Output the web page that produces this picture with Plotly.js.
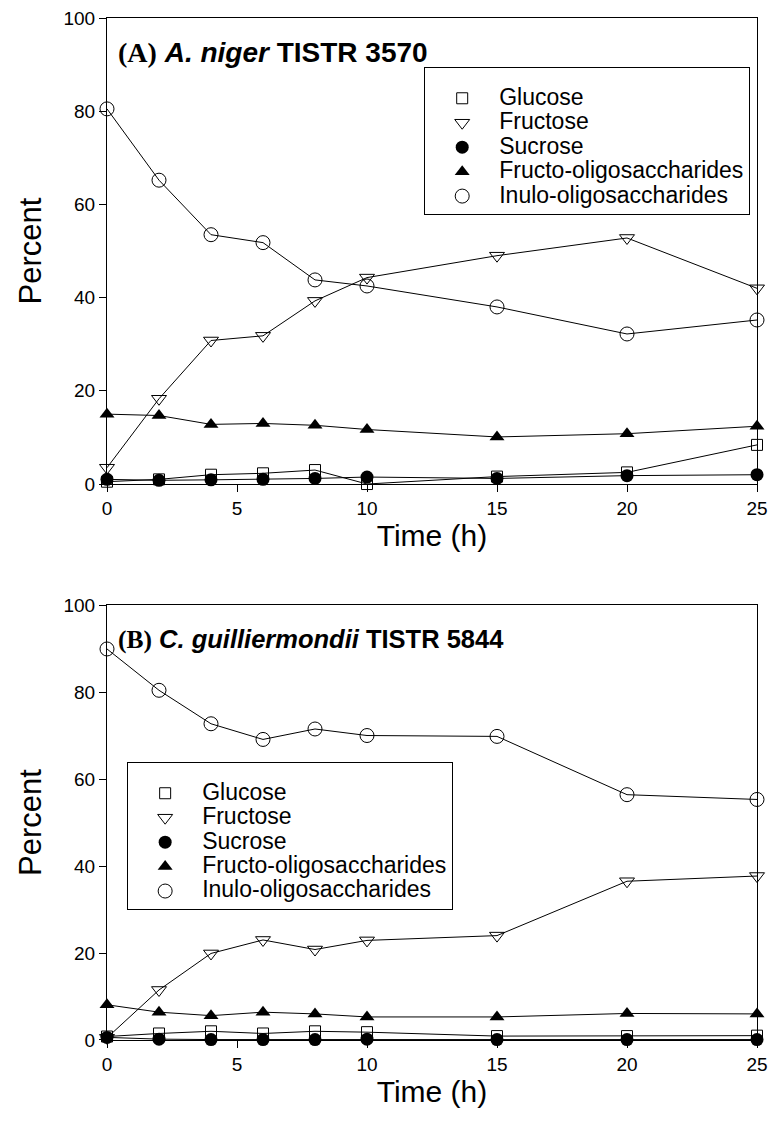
<!DOCTYPE html>
<html>
<head>
<meta charset="utf-8">
<script src="https://cdn.plot.ly/plotly-3.0.1.min.js"></script>
<style>html,body{margin:0;padding:0;background:#fff;}</style>
</head>
<body>
<div id="chart" style="width:768px;height:1144px;"></div>
<script>
const time = [0, 2, 4, 6, 8, 10, 15, 20, 25];
const seriesNames = ["Glucose", "Fructose", "Sucrose", "Fructo-oligosaccharides", "Inulo-oligosaccharides"];

// Panel A: A. niger TISTR 3570
const aGlucose   = [0.5, 1.0, 2.0, 2.3, 3.0, 0.0, 1.6, 2.5, 8.4];
const aFructose  = [3.5, 18.3, 30.8, 31.8, 39.3, 44.3, 49.0, 52.8, 42.0];
const aSucrose   = [1.0, 0.8, 0.9, 1.0, 1.2, 1.5, 1.2, 1.8, 2.0];
const aFOS       = [15.0, 14.7, 12.8, 13.0, 12.6, 11.7, 10.1, 10.8, 12.4];
const aIOS       = [80.5, 65.2, 53.5, 51.8, 43.8, 42.5, 38.0, 32.2, 35.2];

// Panel B: C. guilliermondii TISTR 5844
const bGlucose   = [0.8, 1.5, 2.0, 1.5, 2.0, 1.8, 0.9, 0.9, 1.0];
const bFructose  = [0.5, 11.5, 19.9, 23.0, 20.8, 22.9, 24.0, 36.5, 37.7];
const bSucrose   = [0.6, 0.2, 0.1, 0.1, 0.1, 0.2, 0.1, 0.1, 0.1];
const bFOS       = [8.1, 6.4, 5.6, 6.4, 6.0, 5.3, 5.3, 6.1, 6.0];
const bIOS       = [89.9, 80.4, 72.7, 69.1, 71.5, 70.0, 69.8, 56.4, 55.3];

const xTicks = [0, 5, 10, 15, 20, 25];
const yTicks = [0, 20, 40, 60, 80, 100];

const markerStyles = [
  {symbol: "square-open", size: 11, color: "#000", line: {width: 1, color: "#000"}},
  {symbol: "triangle-down-open", size: 13, color: "#000", line: {width: 1, color: "#000"}},
  {symbol: "circle", size: 13, color: "#000", line: {width: 0, color: "#000"}},
  {symbol: "triangle-up", size: 13, color: "#000", line: {width: 0, color: "#000"}},
  {symbol: "circle-open", size: 14, color: "#000", line: {width: 1, color: "#000"}}
];

const panelA = [aGlucose, aFructose, aSucrose, aFOS, aIOS];
const panelB = [bGlucose, bFructose, bSucrose, bFOS, bIOS];

const traces = [];
function addPanel(data, xa, ya, legendId) {
  data.forEach((vals, i) => {
    traces.push({
      x: time, y: vals, xaxis: xa, yaxis: ya, type: "scatter", mode: "lines+markers",
      line: {color: "#000", width: 1}, marker: markerStyles[i], showlegend: false,
      cliponaxis: false, name: seriesNames[i]
    });
  });
  data.forEach((vals, i) => {
    traces.push({
      x: [null], y: [null], xaxis: xa, yaxis: ya, type: "scatter", mode: "markers",
      marker: markerStyles[i],
      name: "<span style=\"font-size:23px\">" + seriesNames[i] + "</span>",
      legend: legendId, showlegend: true
    });
  });
}
addPanel(panelA, "x", "y", "legend");
addPanel(panelB, "x2", "y2", "legend2");

const fam = "Liberation Sans, Arial, sans-serif";
const axisFont = {family: fam, size: 19, color: "#000"};
function xAxis(anchor) {
  return {
    anchor: anchor, domain: [0, 1], range: [0, 25], tickvals: xTicks, ticks: "outside",
    ticklen: 7, tickwidth: 1, tickcolor: "#000", showline: true, linecolor: "#000", linewidth: 1,
    mirror: true, showgrid: false, zeroline: false, tickfont: axisFont, ticklabeloverflow: "allow",
    title: {text: "Time (h)", font: {family: fam, size: 30, color: "#000"}, standoff: 0}
  };
}
function yAxis(anchor, domain) {
  return {
    anchor: anchor, domain: domain, range: [0, 100], tickvals: yTicks, ticks: "outside",
    ticklen: 7, tickwidth: 1, tickcolor: "#000", showline: true, linecolor: "#000", linewidth: 1,
    mirror: true, showgrid: false, zeroline: false, tickfont: axisFont, ticklabeloverflow: "allow",
    title: {text: "Percent", font: {family: fam, size: 31, color: "#000"}, standoff: 12}
  };
}
const legendFont = {family: fam, size: 16.5, color: "#000"};
function legendSpec(x, y) {
  return {
    x: x, y: y, xanchor: "left", yanchor: "top",
    bordercolor: "#000", borderwidth: 1, bgcolor: "#fff", font: legendFont,
    itemwidth: 64, traceorder: "normal",
    title: {text: " ", font: {family: fam, size: 10, color: "#000"}}
  };
}
const layout = {
  width: 768, height: 1144,
  margin: {l: 107, r: 11, t: 18, b: 104},
  paper_bgcolor: "#fff", plot_bgcolor: "#fff",
  showlegend: true,
  xaxis: xAxis("y"),
  yaxis: yAxis("x", [0.544, 1.0]),
  xaxis2: xAxis("y2"),
  yaxis2: yAxis("x2", [0, 0.4256]),
  legend: legendSpec(0.488, 0.952),
  legend2: legendSpec(0.031, 0.272),
  annotations: [
    {
      xref: "paper", yref: "paper", x: 0.014, y: 0.9667, xanchor: "left", yanchor: "middle", showarrow: false,
      text: "<span style=\"font-family:'Liberation Serif'\"><b>(A)</b></span> <b><i>A. niger</i> TISTR 3570</b>",
      font: {family: fam, size: 28, color: "#000"}
    },
    {
      xref: "paper", yref: "paper", x: 0.014, y: 0.3914, xanchor: "left", yanchor: "middle", showarrow: false,
      text: "<span style=\"font-family:'Liberation Serif'\"><b>(B)</b></span> <b><i>C. guilliermondii</i> TISTR 5844</b>",
      font: {family: fam, size: 25.5, color: "#000"}
    }
  ]
};
Plotly.newPlot("chart", traces, layout, {displayModeBar: false, staticPlot: true});
</script>
</body>
</html>
